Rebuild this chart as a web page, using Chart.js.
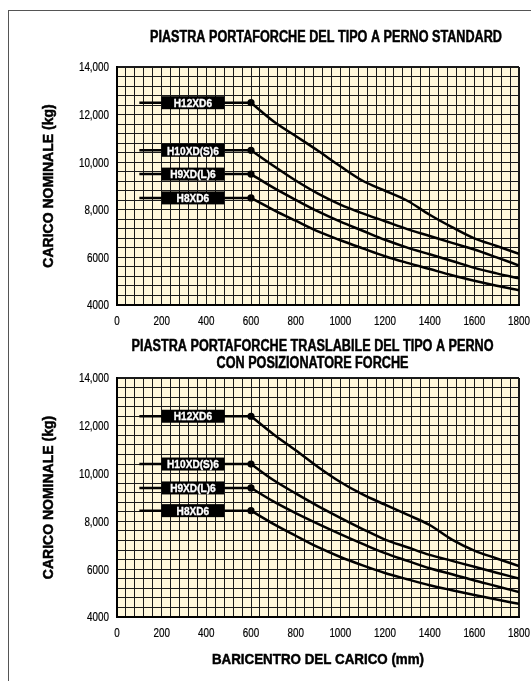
<!DOCTYPE html>
<html lang="it">
<head>
<meta charset="utf-8">
<title>Portata carrelli</title>
<script src="https://cdn.jsdelivr.net/npm/chart.js@4.4.1/dist/chart.umd.min.js"></script>
<style>
  html, body { margin: 0; padding: 0; background: #ffffff; }
  body { width: 531px; height: 681px; position: relative; overflow: hidden; }
  #cornice {
    position: absolute; left: 8px; top: 10px; width: 523px; height: 671px;
    border-left: 1px solid #555; border-top: 1px solid #555; box-sizing: border-box;
  }
  canvas { position: absolute; left: 0; }
  #graficoStandard { top: 0; }
  #graficoTraslabile { top: 335px; }
</style>
</head>
<body>
<div id="cornice"></div>
<canvas id="graficoStandard" width="531" height="335"></canvas>
<canvas id="graficoTraslabile" width="531" height="346"></canvas>
<script>
// Baricentro del carico (mm) per i punti delle curve
const baricentro = [600, 700, 800, 900, 1000, 1100, 1200, 1300, 1400, 1500, 1600, 1700, 1800];
const inizioLinea = 100; // inizio del tratto orizzontale

const modelli = ['H12XD6', 'H10XD(S)6', 'H9XD(L)6', 'H8XD6'];

// Piastra standard (kg)
const standardH12 = [12500, 11720, 11100, 10480, 9830, 9220, 8800, 8380, 7790, 7270, 6800, 6480, 6150];
const standardH10 = [10500, 9850, 9230, 8680, 8220, 7850, 7520, 7190, 6900, 6610, 6330, 6000, 5660];
const standardH9 = [9500, 8930, 8420, 7930, 7500, 7120, 6740, 6410, 6130, 5850, 5560, 5330, 5120];
const standardH8 = [8500, 8000, 7540, 7090, 6720, 6380, 6050, 5770, 5510, 5250, 5020, 4810, 4620];

// Piastra traslabile con posizionatore (kg)
const traslabileH12 = [12400, 11650, 10980, 10280, 9650, 9130, 8700, 8280, 7850, 7240, 6780, 6450, 6130];
const traslabileH10 = [10400, 9730, 9170, 8640, 8150, 7680, 7240, 6920, 6600, 6350, 6100, 5850, 5610];
const traslabileH9 = [9400, 8840, 8350, 7900, 7470, 7060, 6670, 6350, 6040, 5790, 5530, 5290, 5040];
const traslabileH8 = [8450, 7900, 7400, 6920, 6510, 6160, 5840, 5580, 5330, 5120, 4920, 4730, 4550];

// Etichette degli assi
const xTickValues = [0, 200, 400, 600, 800, 1000, 1200, 1400, 1600, 1800];
const xTickLabels = ['0', '200', '400', '600', '800', '1000', '1200', '1400', '1600', '1800'];
const yTickValues = [4000, 6000, 8000, 10000, 12000, 14000];
const yTickLabels = ['4000', '6000', '8,000', '10,000', '12,000', '14,000'];

const FONT = "'Liberation Sans', Arial, sans-serif";
const SFONDO = '#fff8dc';

// Testo "condensato": fillText con maxWidth ridotto, con un filo di contorno per ispessirlo
function testoStretto(ctx, testo, x, y, fattore, spessore) {
    const w = ctx.measureText(testo).width * fattore;
    ctx.fillText(testo, x, y, w);
    if (spessore) {
        ctx.lineWidth = spessore;
        ctx.strokeStyle = ctx.fillStyle;
        ctx.strokeText(testo, x, y, w);
    }
}

// Sfondo crema dell'area del grafico
const sfondoPlugin = {
    id: 'sfondo',
    beforeDraw(chart) {
        const { ctx, chartArea: a } = chart;
        ctx.save();
        ctx.fillStyle = SFONDO;
        ctx.fillRect(a.left, a.top, a.right - a.left, a.bottom - a.top);
        ctx.restore();
    },
};

// Riquadri neri con il nome del modello
const etichettePlugin = {
    id: 'etichette',
    afterDatasetsDraw(chart, args, opts) {
        const { ctx, scales: { x, y } } = chart;
        const x0 = x.getPixelForValue(opts.da);
        const x1 = x.getPixelForValue(opts.a);
        ctx.save();
        ctx.font = 'bold 11.5px ' + FONT;
        ctx.textAlign = 'center';
        ctx.textBaseline = 'alphabetic';
        opts.serie.forEach((valori, i) => {
            const py = y.getPixelForValue(valori[0]);
            ctx.fillStyle = '#000000';
            ctx.fillRect(x0, py - 6.5, x1 - x0, 13);
            ctx.fillStyle = '#ffffff';
            testoStretto(ctx, modelli[i], (x0 + x1) / 2, py + 4.2, 0.88, 0.35);
        });
        ctx.restore();
    },
};

// Titoli, titoli degli assi e valori delle tacche
const testiPlugin = {
    id: 'testi',
    afterDraw(chart, args, o) {
        const { ctx, chartArea: a, scales: { x, y } } = chart;
        ctx.save();
        ctx.fillStyle = '#000000';
        ctx.textBaseline = 'alphabetic';

        ctx.font = 'bold 15.8px ' + FONT;
        ctx.textAlign = 'center';
        o.titolo.forEach((riga, i) => testoStretto(ctx, riga, o.titoloX, o.titoloY[i], 0.8, 0.5));

        ctx.font = '12px ' + FONT;
        ctx.textAlign = 'right';
        yTickValues.forEach((v, i) => {
            testoStretto(ctx, yTickLabels[i], a.left - 8, y.getPixelForValue(v) + 4.3, 0.82, 0.2);
        });
        ctx.textAlign = 'center';
        xTickValues.forEach((v, i) => {
            testoStretto(ctx, xTickLabels[i], x.getPixelForValue(v), a.bottom + 19.5, 0.82, 0.2);
        });

        if (o.titoloX2) {
            ctx.font = 'bold 15px ' + FONT;
            testoStretto(ctx, o.titoloX2, (a.left + a.right) / 2, o.titoloX2Y, 0.89, 0.5);
        }

        ctx.font = 'bold 14px ' + FONT;
        ctx.translate(53.3, (a.top + a.bottom) / 2);
        ctx.rotate(-Math.PI / 2);
        testoStretto(ctx, 'CARICO NOMINALE (kg)', 0, 0, 1, 0.5);
        ctx.restore();
    },
};

function creaGrafico(idCanvas, serie, cfg) {
    const datasets = [];
    serie.forEach((valori) => {
        // tratto orizzontale
        datasets.push({
            data: [{ x: inizioLinea, y: valori[0] }, { x: baricentro[0], y: valori[0] }],
            borderColor: '#000000',
            borderWidth: 2.5,
            pointRadius: 0,
            tension: 0,
        });
        // curva di portata
        datasets.push({
            data: baricentro.map((b, i) => ({ x: b, y: valori[i] })),
            borderColor: '#000000',
            borderWidth: 2.5,
            cubicInterpolationMode: 'monotone',
            pointRadius: (c) => (c.dataIndex === 0 ? 3.6 : 0),
            pointBackgroundColor: '#000000',
            pointBorderWidth: 0,
        });
    });

    return new Chart(document.getElementById(idCanvas).getContext('2d'), {
        type: 'line',
        data: { datasets },
        plugins: [sfondoPlugin, etichettePlugin, testiPlugin],
        options: {
            responsive: false,
            animation: false,
            events: [],
            layout: { padding: { left: 0, right: 12, top: cfg.top, bottom: 0 } },
            plugins: {
                legend: { display: false },
                tooltip: { enabled: false },
                title: { display: false },
                etichette: { da: 200, a: 480, serie },
                testi: cfg.testi,
            },
            scales: {
                x: {
                    type: 'linear',
                    min: 0,
                    max: 1800,
                    afterFit: (s) => { s.height = cfg.xHeight; },
                    ticks: { display: false, stepSize: 40, autoSkip: false },
                    grid: {
                        color: '#1a1a1a',
                        lineWidth: (c) => (c.tick && c.tick.value === 1800 ? 2 : 1),
                        drawTicks: false,
                    },
                    border: { color: '#000000', width: 2 },
                },
                y: {
                    min: 4000,
                    max: 14000,
                    afterFit: (s) => { s.width = 117; },
                    ticks: { display: false, stepSize: 400, autoSkip: false },
                    grid: {
                        color: '#1a1a1a',
                        lineWidth: (c) => (c.tick && c.tick.value === 14000 ? 2 : 1),
                        drawTicks: false,
                    },
                    border: { color: '#000000', width: 2 },
                },
            },
        },
    });
}

creaGrafico('graficoStandard',
    [standardH12, standardH10, standardH9, standardH8],
    {
        top: 67, xHeight: 30,
        testi: {
            titolo: ['PIASTRA PORTAFORCHE DEL TIPO A PERNO STANDARD'],
            titoloX: 326, titoloY: [42],
        },
    });

creaGrafico('graficoTraslabile',
    [traslabileH12, traslabileH10, traslabileH9, traslabileH8],
    {
        top: 43, xHeight: 64,
        testi: {
            titolo: ['PIASTRA PORTAFORCHE TRASLABILE DEL TIPO A PERNO', 'CON POSIZIONATORE FORCHE'],
            titoloX: 312.5, titoloY: [15.7, 32.7],
            titoloX2: 'BARICENTRO DEL CARICO (mm)', titoloX2Y: 329,
        },
    });
</script>
</body>
</html>
